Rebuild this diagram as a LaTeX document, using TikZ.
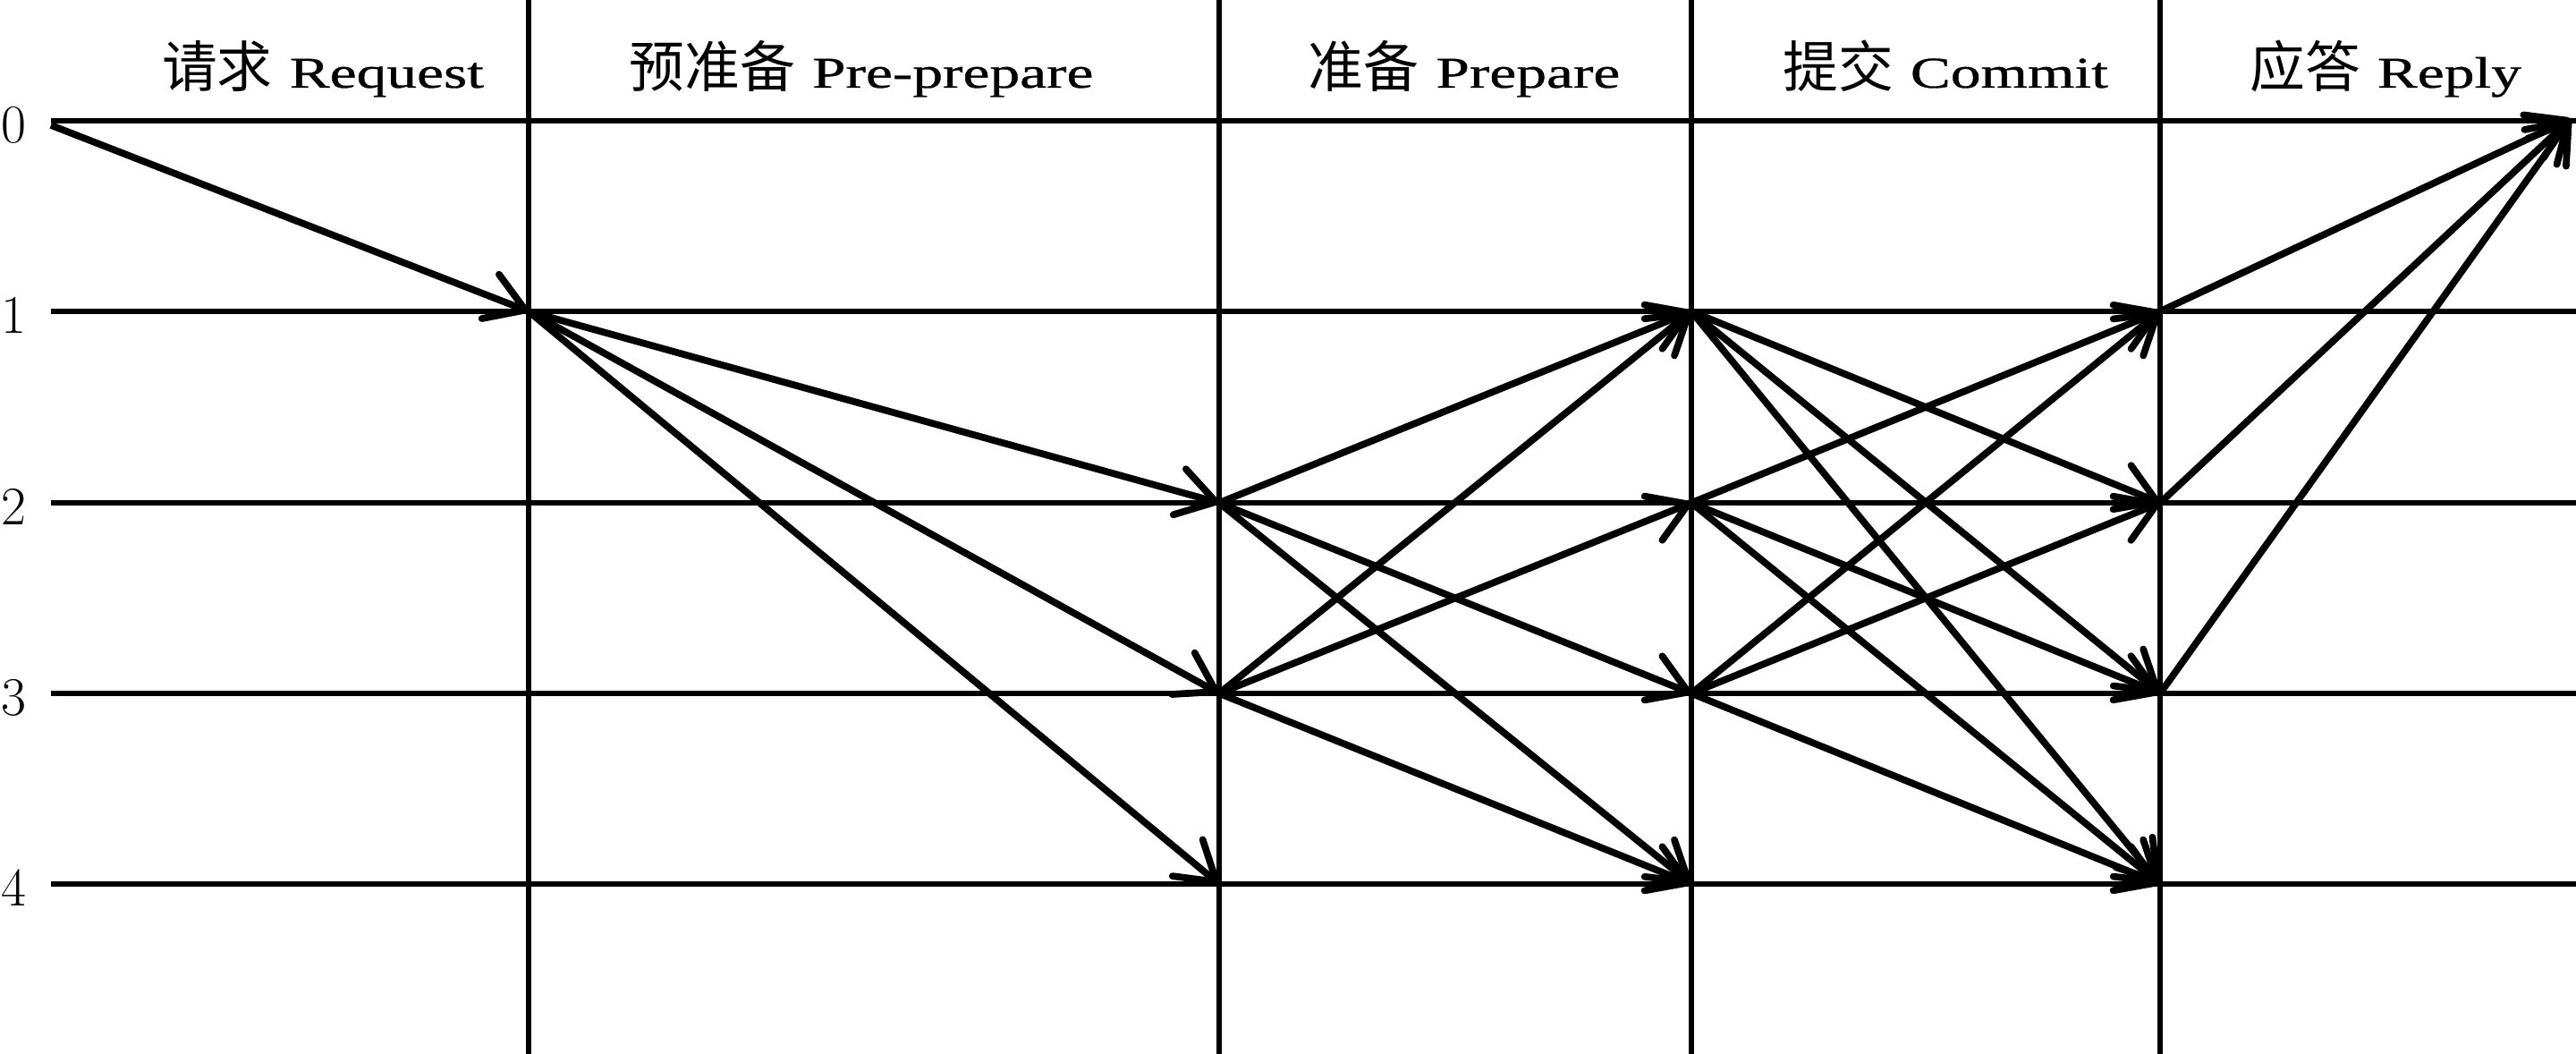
\documentclass[tikz,border=0pt]{standalone}
\usepackage{fontspec}
\setmainfont{Liberation Serif}
\newfontfamily\cjk{Noto Sans CJK SC}
\newfontfamily\headfont[FakeBold=0.6]{Liberation Serif}
\usepackage{graphicx}
\usetikzlibrary{arrows.meta}

\newcommand{\stage}[2]{{\fontsize{17.6}{20}\cjk #1}\hspace{0.19cm}\scalebox{1.37}[1]{\fontsize{14}{16}\headfont #2}}

\tikzset{
  grid line/.style={line width=1.5pt},
  msg/.style={line width=2.2pt, -{Straight Barb[length=4.2mm,width=5.3mm,round]}},
  phase/.style={anchor=base, inner sep=0pt},
  replica/.style={inner sep=0pt, font=\fontsize{18}{20}\selectfont}
}

\begin{document}
\begin{tikzpicture}[x=1cm,y=-1cm]
\useasboundingbox (0,0) rectangle (28.8,11.78);
% rows 0..4 and the borders of the phases
\foreach \r/\y in {0/1.35,1/3.48,2/5.62,3/7.75,4/9.88}{
  \foreach \c/\x in {1/5.91,2/13.63,3/18.91,4/24.15}
    \coordinate (p-\r-\c) at (\x,\y);
  \draw[grid line] (0.57,\y) -- (28.8,\y);
  \node[replica] (n-\r) at (0.15,\y+0.05) {$\r$};
}
\foreach \x in {5.91,13.63,18.91,24.15}
  \draw[grid line] (\x,0) -- (\x,11.78);
\coordinate (client) at (0.57,1.40);
\coordinate (reply) at (28.74,1.33);

% phase titles
\node[phase] (h-request) at (3.61,0.98) {\stage{请求}{Request}};
\node[phase] (h-preprepare) at (9.63,0.98) {\stage{预准备}{Pre-prepare}};
\node[phase] (h-prepare) at (16.37,0.98) {\stage{准备}{Prepare}};
\node[phase] (h-commit) at (21.75,0.98) {\stage{提交}{Commit}};
\node[phase] (h-reply) at (26.67,0.98) {\stage{应答}{Reply}};

% messages
\path[msg]
(client) edge (p-1-1)
(p-1-1) edge (p-2-2) edge (p-3-2) edge (p-4-2)
(p-2-2) edge (p-1-3) edge (p-3-3) edge (p-4-3)
(p-3-2) edge (p-1-3) edge (p-2-3) edge (p-4-3)
(p-1-3) edge (p-2-4) edge (p-3-4) edge (p-4-4)
(p-2-3) edge (p-1-4) edge (p-3-4) edge (p-4-4)
(p-3-3) edge (p-1-4) edge (p-2-4) edge (p-4-4)
(p-1-4) edge (reply)
(p-2-4) edge (reply)
(p-3-4) edge (reply);
\end{tikzpicture}
\end{document}
